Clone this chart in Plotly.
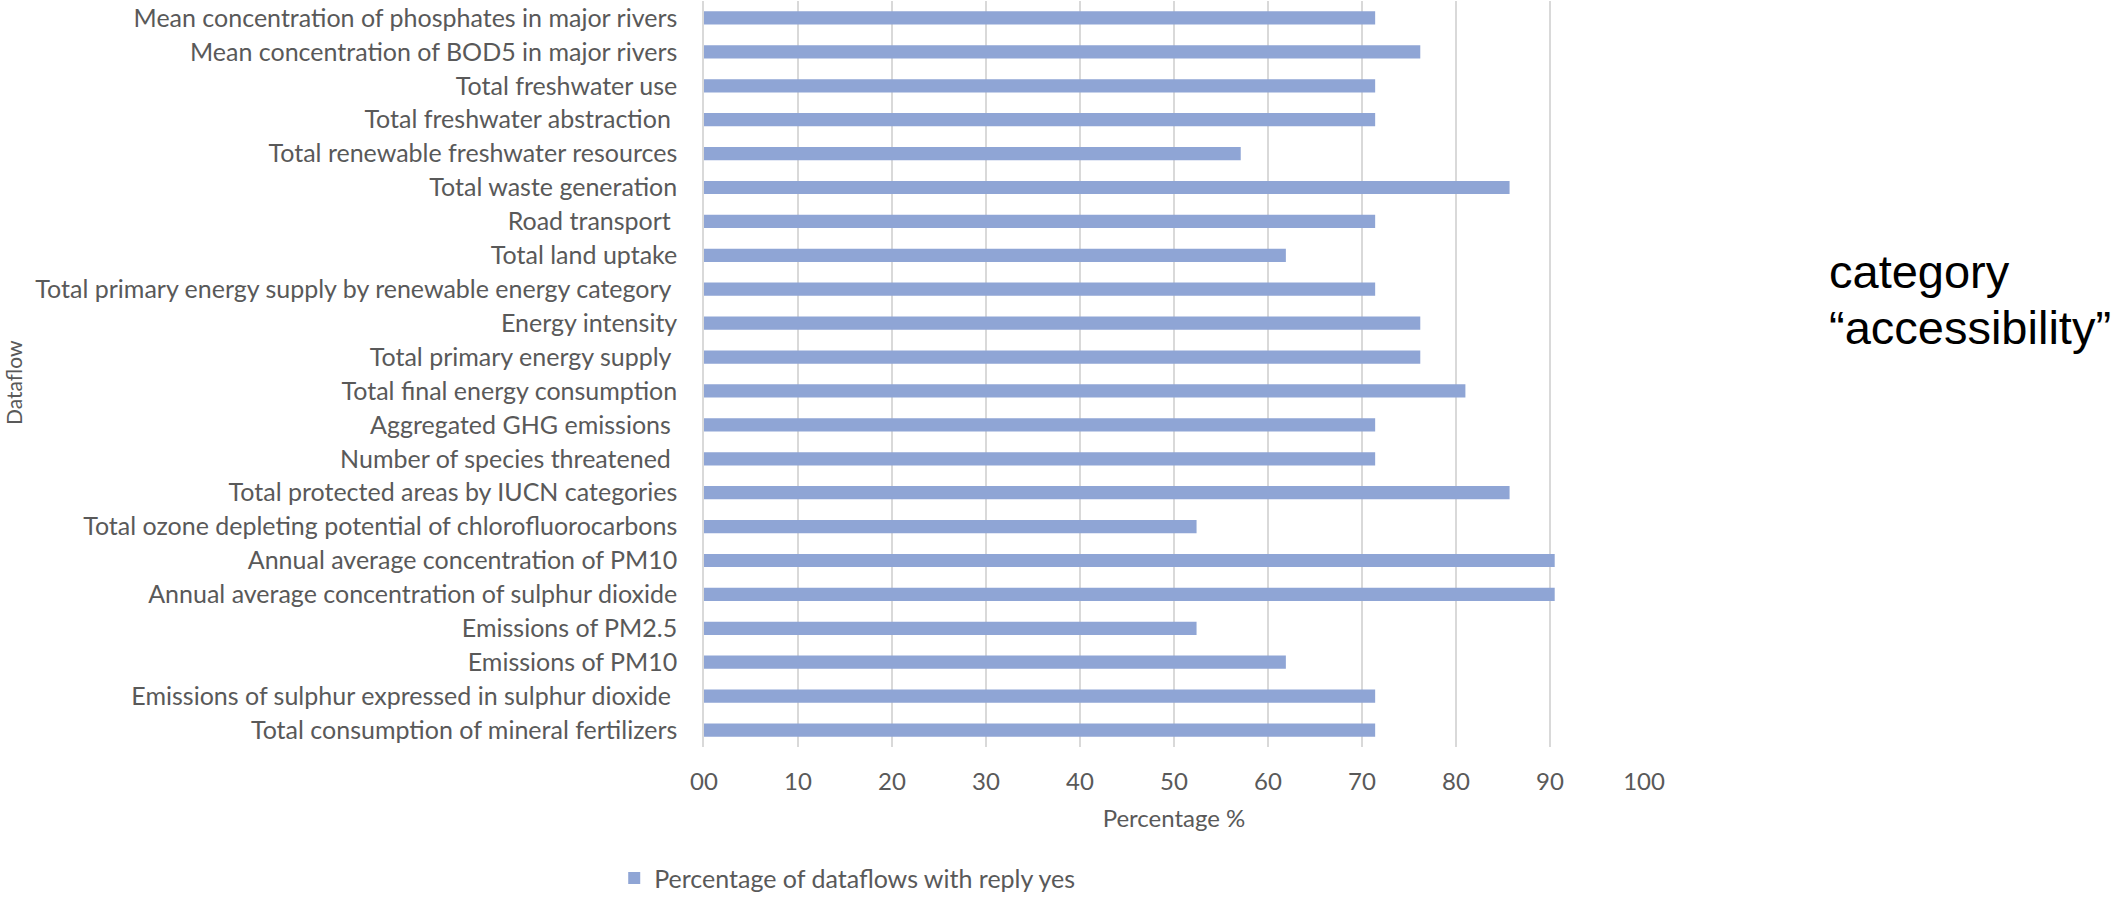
import plotly.graph_objects as go

# Dataflows, listed top to bottom as they appear on the chart
dataflows = [
    "Mean concentration of phosphates in major rivers",
    "Mean concentration of BOD5 in major rivers",
    "Total freshwater use",
    "Total freshwater abstraction ",
    "Total renewable freshwater resources",
    "Total waste generation",
    "Road transport ",
    "Total land uptake",
    "Total primary energy supply by renewable energy category ",
    "Energy intensity",
    "Total primary energy supply ",
    "Total final energy consumption",
    "Aggregated GHG emissions ",
    "Number of species threatened ",
    "Total protected areas by IUCN categories",
    "Total ozone depleting potential of chlorofluorocarbons",
    "Annual average concentration of PM10",
    "Annual average concentration of sulphur dioxide",
    "Emissions of PM2.5",
    "Emissions of PM10",
    "Emissions of sulphur expressed in sulphur dioxide ",
    "Total consumption of mineral fertilizers",
]

# Percentage of dataflows with reply "yes"
pct_yes = [
    71.4, 76.2, 71.4, 71.4, 57.1, 85.7, 71.4, 61.9, 71.4, 76.2, 76.2,
    81.0, 71.4, 71.4, 85.7, 52.4, 90.5, 90.5, 52.4, 61.9, 71.4, 71.4,
]

x_tick_vals = [0, 10, 20, 30, 40, 50, 60, 70, 80, 90, 100]
x_tick_text = ["00", "10", "20", "30", "40", "50", "60", "70", "80", "90", "100"]

series_name = "Percentage of dataflows with reply yes"
note_lines = ["category", "“accessibility”"]

TEXT = "#595959"
FONT = "Lato, Open Sans, sans-serif"
NOTE_FONT = "Liberation Sans, Arial, sans-serif"

fig = go.Figure(
    go.Bar(
        x=pct_yes,
        y=dataflows,
        orientation="h",
        name=series_name,
        marker=dict(color="#8FA5D5", line=dict(width=0)),
        showlegend=True,
    )
)

annotations = [
    # vertical axis title, placed at the far left edge
    dict(
        text="Dataflow",
        xref="paper",
        yref="paper",
        x=-0.734,
        y=0.488,
        xanchor="center",
        yanchor="middle",
        textangle=-90,
        showarrow=False,
        font=dict(family=FONT, size=21, color=TEXT),
    )
]

# side note, one annotation per line
for line, ypos in zip(note_lines, [0.638, 0.563]):
    annotations.append(
        dict(
            text=line,
            xref="paper",
            yref="paper",
            x=1.195,
            y=ypos,
            xanchor="left",
            yanchor="middle",
            align="left",
            showarrow=False,
            font=dict(family=NOTE_FONT, size=47, color="black"),
        )
    )

fig.update_layout(
    width=2118,
    height=897,
    autosize=False,
    margin=dict(l=704, r=474, t=1, b=150),
    paper_bgcolor="white",
    plot_bgcolor="white",
    bargap=0.61,
    font=dict(family=FONT, color=TEXT, size=25),
    legend=dict(
        orientation="h",
        xref="container",
        yref="container",
        x=0.29,
        xanchor="left",
        y=0.021,
        yanchor="middle",
        font=dict(family=FONT, size=25, color=TEXT),
        bgcolor="rgba(0,0,0,0)",
    ),
    xaxis=dict(
        range=[0, 100],
        tickvals=x_tick_vals,
        ticktext=x_tick_text,
        showgrid=True,
        gridcolor="#D9D9D9",
        gridwidth=1.5,
        zeroline=False,
        showline=False,
        ticks="",
        ticklabelstandoff=18,
        tickfont=dict(family=FONT, size=24, color=TEXT),
        title=dict(text="Percentage %", font=dict(family=FONT, size=24, color=TEXT), standoff=16),
    ),
    yaxis=dict(
        autorange="reversed",
        showgrid=False,
        showline=True,
        linecolor="#D9D9D9",
        linewidth=1.5,
        ticks="",
        ticklabelstandoff=20,
        tickfont=dict(family=FONT, size=25, color=TEXT),
    ),
    annotations=annotations,
)

fig.write_html("out.html")
